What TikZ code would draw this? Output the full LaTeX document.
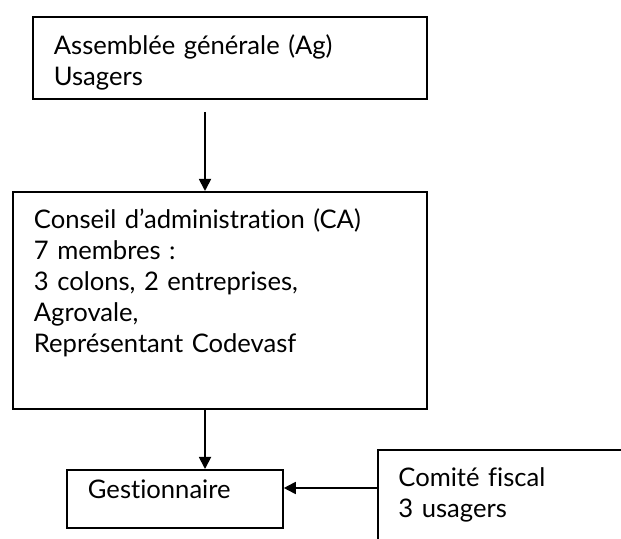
\documentclass[tikz,border=0pt]{standalone}
\usepackage{fontspec}
\setmainfont{Lato}[Ligatures=NoCommon]
\usetikzlibrary{arrows.meta}

\begin{document}
\begin{tikzpicture}[x=0.5pt, y=-0.5pt,
  every node/.style = {shape=rectangle, align=left, anchor=north west,
    inner xsep=10.5pt, inner ysep=0pt,
    font=\fontsize{12.8}{15.5}\selectfont},
  box/.style = {draw, line width=0.9pt},
  link/.style = {-{Triangle[length=6pt,width=6pt]}, line width=0.9pt}]
  \useasboundingbox (0,0) rectangle (621,539);
  \node[box, text width=176pt, text height=19pt, text depth=22pt] (ag) at (32,16)
    {Assemblée générale (Ag)\\Usagers};
  \node[box, text width=186pt, text height=18.5pt, text depth=90pt] (ca) at (12,191)
    {Conseil d’administration (CA)\\7 membres :\\3 colons, 2 entreprises,\\Agrovale,\\Représentant Codevasf};
  \node[box, text width=87pt, text height=14.5pt, text depth=14.5pt] (gest) at (66,469)
    {Gestionnaire};
  \node[inner xsep=10pt, text width=101.5pt, text height=18pt, text depth=26.5pt] (cf) at (378,450)
    {Comité fiscal\\3 usagers};
  \draw[line width=0.9pt] (cf.south west) -- (cf.north west) -- (cf.north east);
  \coordinate (ag-out) at (205,112);
  \draw[link] (ag-out) -- (ag-out |- ca.north);
  \draw[link] (ca.south -| ag-out) -- (gest.north -| ag-out);
  \draw[link] ([yshift=-19pt]cf.north west) -- ([yshift=-19pt]cf.north west -| gest.east);
\end{tikzpicture}
\end{document}
